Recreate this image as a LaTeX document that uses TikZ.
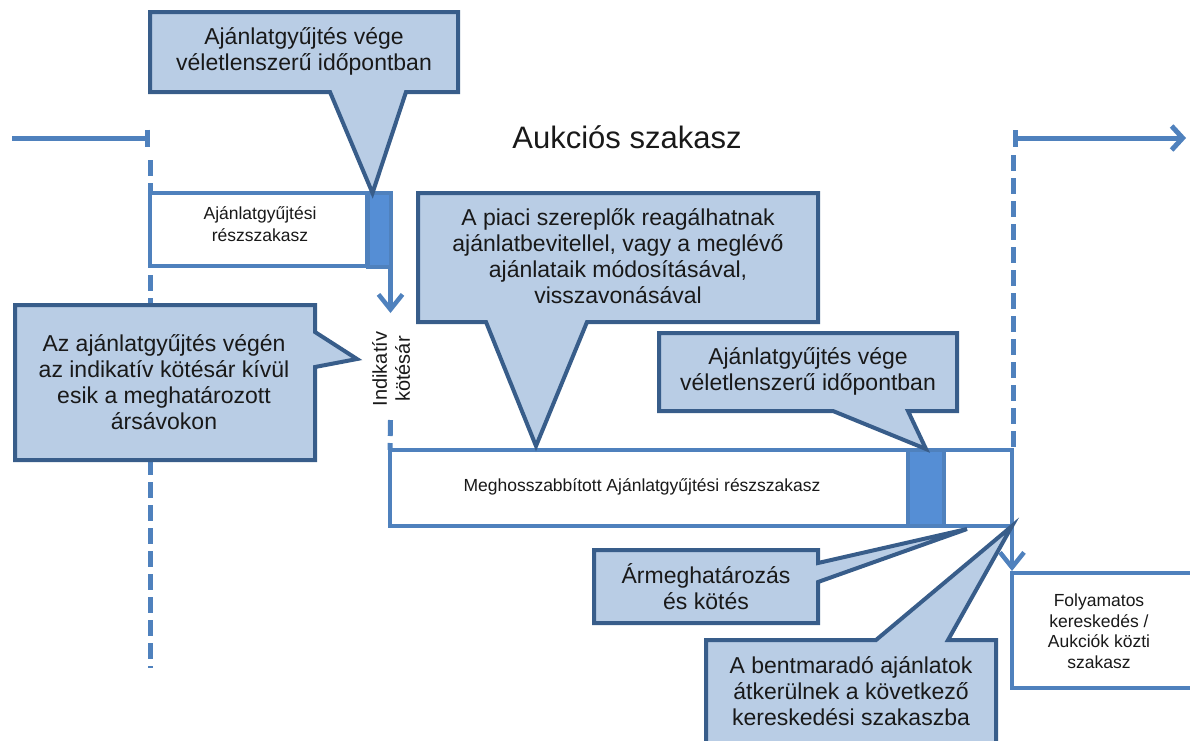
\documentclass[tikz,border=0pt]{standalone}
\usepackage{fontspec}
\setmainfont{Liberation Sans}
\usetikzlibrary{arrows.meta}
\definecolor{lineblue}{HTML}{4F81BD}
\definecolor{barblue}{HTML}{558ED5}
\definecolor{callfill}{HTML}{B9CDE5}
\definecolor{calldraw}{HTML}{385D8A}

\begin{document}
\begin{tikzpicture}[x=1pt,y=-1pt,
  line/.style={draw=lineblue,line width=5pt},
  dashline/.style={line,dash pattern=on 16pt off 7pt},
  phasebox/.style={draw=lineblue,line width=4pt,fill=white,inner sep=0pt,outer sep=0pt},
  endbar/.style={phasebox,fill=barblue},
  smalltext/.style={font=\fontsize{17.5}{21.5}\selectfont,align=center,text=black!90},
  calltext/.style={font=\fontsize{23}{26}\selectfont,align=center,text=black!90},
  callout/.style={draw=calldraw,fill=callfill,line width=4pt,line join=miter},
  down/.style={line,line width=4.5pt,-{Straight Barb[length=15pt,width=24pt]}}]

\useasboundingbox (0,0) rectangle (1190,740);
\clip (0,0) rectangle (1190,740);

% time line and phase borders
\coordinate (startl) at (12,138);
\coordinate (endl) at (150,138);
\coordinate (startr) at (1013,138);
\coordinate (endr) at (1186,138);
\draw[line,-{Bar[width=17pt]}] (startl) -- (endl);
\draw[line,{Bar[width=17pt]}-{Straight Barb[length=11pt,width=24pt]}] (startr) -- (endr);
\draw[dashline] (150,160) -- (150,668);
\draw[dashline] (1013,155) -- (1013,450);

\node[font=\fontsize{31}{36}\selectfont,text=black!90] (title) at (627,137) {Aukciós szakasz};

% phases
\node[phasebox,minimum width=217pt,minimum height=73pt] (phaseone) at (258.5,229.5) {};
\node[smalltext] (phaseonetext) at (260,224) {Ajánlatgyűjtési\\részszakasz};
\node[endbar,minimum width=23pt,minimum height=74pt] (barone) at (379,230) {};
\node[phasebox,minimum width=622pt,minimum height=76pt] (phasetwo) at (701,488) {};
\node[smalltext] (phasetwotext) at (642,487) {Meghosszabbított Ajánlatgyűjtési részszakasz};
\node[endbar,minimum width=36pt,minimum height=76pt] (bartwo) at (926,488) {};
\node[phasebox,minimum width=190pt,minimum height=115pt] (next) at (1107,630.5) {};
\node[smalltext,font=\fontsize{17.5}{20.5}\selectfont] (nexttext) at (1099,631) {Folyamatos\\kereskedés /\\Aukciók közti\\szakasz};

% indicative price
\coordinate (indtip) at (390.5,313);
\draw[down] (barone.south east) -- (indtip);
\node[rotate=90,font=\fontsize{20}{23}\selectfont,align=center,text=black!90] (indlabel) at (391,369) {Indikatív\\kötésár};
\draw[dashline] (390.5,420) -- (phasetwo.north west);
\coordinate (nexttip) at (1012,571);
\draw[down] (phasetwo.south east) -- (nexttip);

% callouts
\draw[callout] (150,12) -- (458,12) -- (458,92) -- (406,92) -- ([xshift=5pt]barone.north west) -- (330,92) -- (150,92) -- cycle;
\node[calltext] (firstend) at (304,51) {Ajánlatgyűjtés vége\\véletlenszerű időpontban};

\coordinate (indpoint) at (357,359);
\draw[callout] (15,305) -- (315,305) -- (315,332) -- (indpoint) -- (315,367) -- (315,460) -- (15,460) -- cycle;
\node[calltext] (outside) at (164,382) {Az ajánlatgyűjtés végén\\az indikatív kötésár kívül\\esik a meghatározott\\ársávokon};

\draw[callout] (418,193) -- (818,193) -- (818,322) -- (587,322) -- ([xshift=146pt,yshift=4pt]phasetwo.north west) -- (486,322) -- (418,322) -- cycle;
\node[calltext] (react) at (618,256) {A piaci szereplők reagálhatnak\\ajánlatbevitellel, vagy a meglévő\\ajánlataik módosításával,\\visszavonásával};

\draw[callout] (659,333) -- (957,333) -- (957,411) -- (908,411) -- ([yshift=1pt]bartwo.north) -- (833,411) -- (659,411) -- cycle;
\node[calltext] (secondend) at (808,371) {Ajánlatgyűjtés vége\\véletlenszerű időpontban};

\draw[callout] (594,550) -- (818,550) -- (818,563) -- ([xshift=23pt,yshift=-3pt]bartwo.south east) -- (818,582) -- (818,623) -- (594,623) -- cycle;
\node[calltext] (price) at (706,587) {Ármeghatározás\\és kötés};

\draw[callout] (706,640) -- (876,640) -- (phasetwo.south east) -- (948,640) -- (996,640) -- (996,770) -- (706,770) -- cycle;
\node[calltext] (remain) at (851,691) {A bentmaradó ajánlatok\\átkerülnek a következő\\kereskedési szakaszba};

\end{tikzpicture}
\end{document}
